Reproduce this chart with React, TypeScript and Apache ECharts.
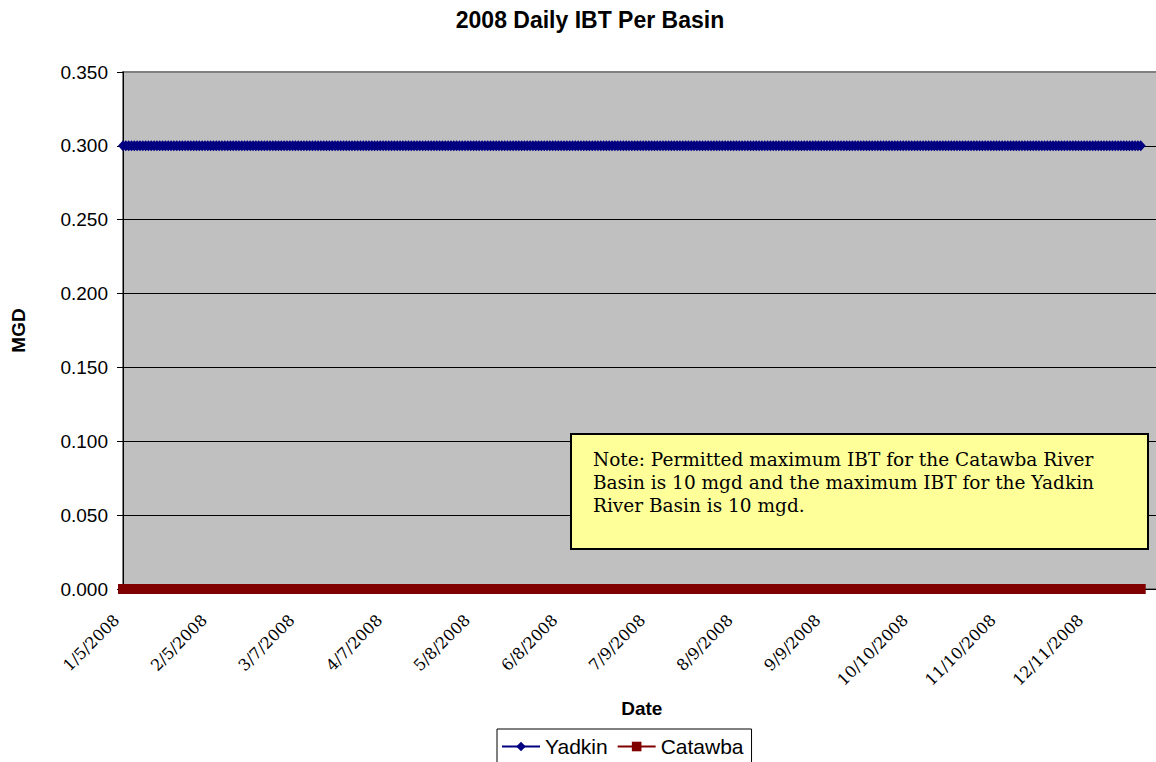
import React, { useEffect, useRef } from "react";
import * as echarts from "echarts";

// Tick labels of the date axis (one every 31 days, starting 1/5/2008)
const TICK_LABELS = [
  "1/5/2008", "2/5/2008", "3/7/2008", "4/7/2008", "5/8/2008", "6/8/2008",
  "7/9/2008", "8/9/2008", "9/9/2008", "10/10/2008", "11/10/2008", "12/11/2008",
];
const TICK_STEP_DAYS = 31;

// Daily values, 1/5/2008 .. 12/30/2008 (MGD)
const YADKIN_MGD = [
  0.3, 0.3, 0.3, 0.3, 0.3, 0.3, 0.3, 0.3, 0.3, 0.3, 0.3, 0.3, 0.3, 0.3, 0.3, 0.3, 0.3, 0.3, 0.3, 0.3,
  0.3, 0.3, 0.3, 0.3, 0.3, 0.3, 0.3, 0.3, 0.3, 0.3, 0.3, 0.3, 0.3, 0.3, 0.3, 0.3, 0.3, 0.3, 0.3, 0.3,
  0.3, 0.3, 0.3, 0.3, 0.3, 0.3, 0.3, 0.3, 0.3, 0.3, 0.3, 0.3, 0.3, 0.3, 0.3, 0.3, 0.3, 0.3, 0.3, 0.3,
  0.3, 0.3, 0.3, 0.3, 0.3, 0.3, 0.3, 0.3, 0.3, 0.3, 0.3, 0.3, 0.3, 0.3, 0.3, 0.3, 0.3, 0.3, 0.3, 0.3,
  0.3, 0.3, 0.3, 0.3, 0.3, 0.3, 0.3, 0.3, 0.3, 0.3, 0.3, 0.3, 0.3, 0.3, 0.3, 0.3, 0.3, 0.3, 0.3, 0.3,
  0.3, 0.3, 0.3, 0.3, 0.3, 0.3, 0.3, 0.3, 0.3, 0.3, 0.3, 0.3, 0.3, 0.3, 0.3, 0.3, 0.3, 0.3, 0.3, 0.3,
  0.3, 0.3, 0.3, 0.3, 0.3, 0.3, 0.3, 0.3, 0.3, 0.3, 0.3, 0.3, 0.3, 0.3, 0.3, 0.3, 0.3, 0.3, 0.3, 0.3,
  0.3, 0.3, 0.3, 0.3, 0.3, 0.3, 0.3, 0.3, 0.3, 0.3, 0.3, 0.3, 0.3, 0.3, 0.3, 0.3, 0.3, 0.3, 0.3, 0.3,
  0.3, 0.3, 0.3, 0.3, 0.3, 0.3, 0.3, 0.3, 0.3, 0.3, 0.3, 0.3, 0.3, 0.3, 0.3, 0.3, 0.3, 0.3, 0.3, 0.3,
  0.3, 0.3, 0.3, 0.3, 0.3, 0.3, 0.3, 0.3, 0.3, 0.3, 0.3, 0.3, 0.3, 0.3, 0.3, 0.3, 0.3, 0.3, 0.3, 0.3,
  0.3, 0.3, 0.3, 0.3, 0.3, 0.3, 0.3, 0.3, 0.3, 0.3, 0.3, 0.3, 0.3, 0.3, 0.3, 0.3, 0.3, 0.3, 0.3, 0.3,
  0.3, 0.3, 0.3, 0.3, 0.3, 0.3, 0.3, 0.3, 0.3, 0.3, 0.3, 0.3, 0.3, 0.3, 0.3, 0.3, 0.3, 0.3, 0.3, 0.3,
  0.3, 0.3, 0.3, 0.3, 0.3, 0.3, 0.3, 0.3, 0.3, 0.3, 0.3, 0.3, 0.3, 0.3, 0.3, 0.3, 0.3, 0.3, 0.3, 0.3,
  0.3, 0.3, 0.3, 0.3, 0.3, 0.3, 0.3, 0.3, 0.3, 0.3, 0.3, 0.3, 0.3, 0.3, 0.3, 0.3, 0.3, 0.3, 0.3, 0.3,
  0.3, 0.3, 0.3, 0.3, 0.3, 0.3, 0.3, 0.3, 0.3, 0.3, 0.3, 0.3, 0.3, 0.3, 0.3, 0.3, 0.3, 0.3, 0.3, 0.3,
  0.3, 0.3, 0.3, 0.3, 0.3, 0.3, 0.3, 0.3, 0.3, 0.3, 0.3, 0.3, 0.3, 0.3, 0.3, 0.3, 0.3, 0.3, 0.3, 0.3,
  0.3, 0.3, 0.3, 0.3, 0.3, 0.3, 0.3, 0.3, 0.3, 0.3, 0.3, 0.3, 0.3, 0.3, 0.3, 0.3, 0.3, 0.3, 0.3, 0.3,
  0.3, 0.3, 0.3, 0.3, 0.3, 0.3, 0.3, 0.3, 0.3, 0.3, 0.3, 0.3, 0.3, 0.3, 0.3, 0.3, 0.3, 0.3, 0.3, 0.3,
  0.3,
];
const CATAWBA_MGD = [
  0, 0, 0, 0, 0, 0, 0, 0, 0, 0, 0, 0, 0, 0, 0, 0, 0, 0, 0, 0,
  0, 0, 0, 0, 0, 0, 0, 0, 0, 0, 0, 0, 0, 0, 0, 0, 0, 0, 0, 0,
  0, 0, 0, 0, 0, 0, 0, 0, 0, 0, 0, 0, 0, 0, 0, 0, 0, 0, 0, 0,
  0, 0, 0, 0, 0, 0, 0, 0, 0, 0, 0, 0, 0, 0, 0, 0, 0, 0, 0, 0,
  0, 0, 0, 0, 0, 0, 0, 0, 0, 0, 0, 0, 0, 0, 0, 0, 0, 0, 0, 0,
  0, 0, 0, 0, 0, 0, 0, 0, 0, 0, 0, 0, 0, 0, 0, 0, 0, 0, 0, 0,
  0, 0, 0, 0, 0, 0, 0, 0, 0, 0, 0, 0, 0, 0, 0, 0, 0, 0, 0, 0,
  0, 0, 0, 0, 0, 0, 0, 0, 0, 0, 0, 0, 0, 0, 0, 0, 0, 0, 0, 0,
  0, 0, 0, 0, 0, 0, 0, 0, 0, 0, 0, 0, 0, 0, 0, 0, 0, 0, 0, 0,
  0, 0, 0, 0, 0, 0, 0, 0, 0, 0, 0, 0, 0, 0, 0, 0, 0, 0, 0, 0,
  0, 0, 0, 0, 0, 0, 0, 0, 0, 0, 0, 0, 0, 0, 0, 0, 0, 0, 0, 0,
  0, 0, 0, 0, 0, 0, 0, 0, 0, 0, 0, 0, 0, 0, 0, 0, 0, 0, 0, 0,
  0, 0, 0, 0, 0, 0, 0, 0, 0, 0, 0, 0, 0, 0, 0, 0, 0, 0, 0, 0,
  0, 0, 0, 0, 0, 0, 0, 0, 0, 0, 0, 0, 0, 0, 0, 0, 0, 0, 0, 0,
  0, 0, 0, 0, 0, 0, 0, 0, 0, 0, 0, 0, 0, 0, 0, 0, 0, 0, 0, 0,
  0, 0, 0, 0, 0, 0, 0, 0, 0, 0, 0, 0, 0, 0, 0, 0, 0, 0, 0, 0,
  0, 0, 0, 0, 0, 0, 0, 0, 0, 0, 0, 0, 0, 0, 0, 0, 0, 0, 0, 0,
  0, 0, 0, 0, 0, 0, 0, 0, 0, 0, 0, 0, 0, 0, 0, 0, 0, 0, 0, 0,
  0,
];

const Y_MIN = 0;
const Y_MAX = 0.35;
const Y_STEP = 0.05;
const X_MAX_DAYS = 367;

const NOTE_TEXT =
  "Note: Permitted maximum IBT for the Catawba River\nBasin is 10 mgd and the maximum IBT for the Yadkin\nRiver Basin is 10 mgd.";

const SANS = '"Liberation Sans", Arial, sans-serif';
const SERIF = '"DejaVu Serif", "Liberation Serif", serif';

export default function App() {
  const ref = useRef<HTMLDivElement>(null);

  useEffect(() => {
    if (!ref.current) return;
    const chart = echarts.init(ref.current, null, { renderer: "svg" });

    const option: any = {
      animation: false,
      backgroundColor: "#ffffff",
      title: {
        text: "2008 Daily IBT Per Basin",
        left: "center",
        top: 8,
        padding: 0,
        textStyle: { fontFamily: SANS, fontSize: 23, fontWeight: "bold", color: "#000" },
      },
      legend: {
        data: ["Yadkin", "Catawba"],
        left: 497,
        top: 729,
        orient: "horizontal",
        itemWidth: 38,
        itemHeight: 12,
        itemGap: 9,
        padding: [7, 8, 8, 4],
        borderColor: "#000",
        borderWidth: 1,
        backgroundColor: "#fff",
        textStyle: { fontFamily: SANS, fontSize: 21, color: "#000" },
      },
      grid: {
        left: 123,
        top: 72,
        right: 19.5,
        bottom: 191,
        show: true,
        backgroundColor: "#C0C0C0",
        borderColor: "#808080",
        borderWidth: 2,
        containLabel: false,
        outerBoundsMode: "none",
      },
      xAxis: {
        type: "value",
        min: 0,
        max: X_MAX_DAYS,
        interval: TICK_STEP_DAYS,
        name: "Date",
        nameLocation: "middle",
        nameGap: 110,
        nameTextStyle: { fontFamily: SANS, fontSize: 19, fontWeight: "bold", color: "#000" },
        axisLine: { show: true, lineStyle: { color: "#000", width: 1 } },
        axisTick: { show: true, length: 4, lineStyle: { color: "#000" } },
        splitLine: { show: false },
        axisLabel: {
          rotate: 45,
          margin: 22,
          padding: [0, 9, 0, 0],
          fontFamily: SERIF,
          fontSize: 16,
          color: "#000",
          showMaxLabel: false,
          formatter: (v: number) =>
            v % TICK_STEP_DAYS === 0 ? TICK_LABELS[v / TICK_STEP_DAYS] ?? "" : "",
        },
      },
      yAxis: {
        type: "value",
        min: Y_MIN,
        max: Y_MAX,
        interval: Y_STEP,
        name: "MGD",
        nameLocation: "middle",
        nameRotate: 90,
        nameGap: 95,
        nameTextStyle: { fontFamily: SANS, fontSize: 19, fontWeight: "bold", color: "#000" },
        axisLine: { show: true, lineStyle: { color: "#000", width: 1 } },
        axisTick: { show: true, length: 6, lineStyle: { color: "#000" } },
        axisLabel: {
          margin: 15,
          fontFamily: SANS,
          fontSize: 19,
          color: "#000",
          formatter: (v: number) => v.toFixed(3),
        },
        splitLine: {
          show: true,
          showMinLine: false,
          showMaxLine: false,
          lineStyle: { color: "#000", width: 1 },
        },
      },
      series: [
        {
          name: "Yadkin",
          type: "line",
          data: YADKIN_MGD.map((v, i) => [i, v]),
          color: "#000080",
          symbol: "diamond",
          symbolSize: [10, 11],
          showSymbol: true,
          lineStyle: { color: "#000080", width: 1 },
          itemStyle: { color: "#000080" },
          z: 3,
        },
        {
          name: "Catawba",
          type: "line",
          data: CATAWBA_MGD.map((v, i) => [i, v]),
          color: "#800000",
          symbol: "rect",
          symbolSize: 10,
          showSymbol: true,
          lineStyle: { color: "#800000", width: 1 },
          itemStyle: { color: "#800000" },
          z: 4,
        },
      ],
      graphic: [
        {
          type: "rect",
          z: 100,
          shape: { x: 571, y: 434, width: 577, height: 115 },
          style: { fill: "#FFFF99", stroke: "#000", lineWidth: 2 },
        },
        {
          type: "text",
          z: 101,
          x: 593,
          y: 448,
          style: {
            text: NOTE_TEXT,
            fontFamily: SERIF,
            fontSize: 18.5,
            lineHeight: 23,
            fill: "#000",
          },
        },
      ],
    };

    chart.setOption(option);
    return () => chart.dispose();
  }, []);

  return (
    <div
      style={{
        position: "fixed",
        left: 0,
        top: 0,
        width: 1156,
        height: 762,
        overflow: "hidden",
        background: "#fff",
      }}
    >
      <div ref={ref} style={{ width: 1180, height: 780 }} />
    </div>
  );
}
